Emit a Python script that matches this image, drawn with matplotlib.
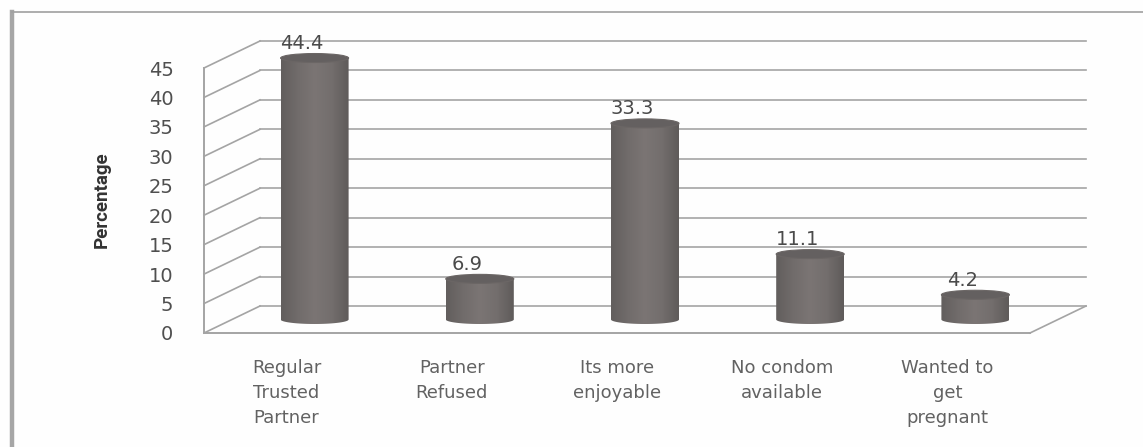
import numpy as np
import matplotlib
matplotlib.use('Agg')
import matplotlib.pyplot as plt
from matplotlib.colors import LinearSegmentedColormap
from matplotlib.patches import Ellipse, PathPatch
from matplotlib.path import Path
from matplotlib.transforms import Affine2D

categories = ['Regular\nTrusted\nPartner', 'Partner\nRefused', 'Its more\nenjoyable',
              'No condom\navailable', 'Wanted to\nget\npregnant']
values = [44.4, 6.9, 33.3, 11.1, 4.2]
y_ticks = [0, 5, 10, 15, 20, 25, 30, 35, 40, 45]

W, H = 1143, 447
LEFT, RIGHT, BOTTOM, TOP = 204, 1030, 333, 68
DEPTH_X, DEPTH_Y = 56, 27
GRID = '#a4a4a4'
TEXT = '#626262'

plt.rcParams['font.family'] = 'DejaVu Sans'

fig = plt.figure(figsize=(W / 100, H / 100), dpi=100, facecolor='#fefefe')
ax = fig.add_axes([LEFT / W, 1 - BOTTOM / H, (RIGHT - LEFT) / W, (BOTTOM - TOP) / H])
ax.patch.set_alpha(0)
ax.set_xlim(0, len(values))
ax.set_ylim(0, 45)
for s in ax.spines.values():
    s.set_visible(False)

# depth offsets are in pixels on top of the data transform
back = ax.transData + Affine2D().translate(DEPTH_X, DEPTH_Y)
mid = ax.transData + Affine2D().translate(DEPTH_X / 2, DEPTH_Y / 2)
x_unit = (RIGHT - LEFT) / len(values)
y_unit = (BOTTOM - TOP) / 45
n = len(values)

# back wall, side wall, floor
for t in y_ticks:
    ax.plot([0, n], [t, t], color=GRID, lw=1.2, transform=back, clip_on=False, zorder=1)
    ax.plot([0, DEPTH_X / x_unit], [t, t + DEPTH_Y / y_unit], color=GRID, lw=1.2,
            clip_on=False, zorder=1)
ax.plot([0, 0], [0, 45], color=GRID, lw=1.4, clip_on=False, zorder=1)
ax.plot([0, n], [0, 0], color=GRID, lw=1.4, clip_on=False, zorder=1)
ax.plot([n, n + DEPTH_X / x_unit], [0, DEPTH_Y / y_unit], color=GRID, lw=1.2,
        clip_on=False, zorder=1)

# cylinders
side_cmap = LinearSegmentedColormap.from_list(
    'side', ['#625e5d', '#716c6b', '#7b7574', '#736e6d', '#5f5b5a'])
half_w = 34 / x_unit
half_h = 4.5 / y_unit
gradient = np.linspace(0, 1, 128).reshape(1, -1)
theta = np.linspace(np.pi, 2 * np.pi, 40)

for i, v in enumerate(values):
    cx = i + 0.5
    xs = cx + half_w * np.cos(theta)
    ys = half_h * np.sin(theta)
    verts = list(zip(xs, ys)) + [(xs[-1], v), (xs[0], v), (xs[0], ys[0])]
    outline = PathPatch(Path(verts), facecolor='none', edgecolor='none', transform=mid,
                        zorder=3, clip_on=False)
    ax.add_patch(outline)
    im = ax.imshow(gradient, cmap=side_cmap, aspect='auto', zorder=3, transform=mid,
                   extent=(cx - half_w, cx + half_w, -half_h, v))
    im.set_clip_box(fig.bbox)
    im.set_clip_path(outline)
    ax.add_patch(Ellipse((cx, v), 2 * half_w, 2 * half_h, facecolor='#646060',
                         edgecolor='#6b6665', lw=0.8, transform=mid, zorder=4, clip_on=False))
    ax.annotate(f'{v:.1f}', xy=(cx, v), xycoords=mid, xytext=(-9, 10.5),
                textcoords='offset points', ha='center', va='center',
                fontsize=14, color='#4a4a4a', zorder=5, annotation_clip=False)

ax.set_xlim(0, n)
ax.set_ylim(0, 45)

ax.set_yticks(y_ticks)
ax.set_yticklabels([str(t) for t in y_ticks], fontsize=14, color='#4f4f4f')
ax.set_xticks(np.arange(n) + 0.5)
ax.set_xticklabels(categories, fontsize=13, color=TEXT, linespacing=1.5)
ax.tick_params(axis='y', length=0, pad=22)
ax.tick_params(axis='x', length=0, pad=19)

fig.text(102 / W, 1 - 200 / H, 'Percentage', rotation=90, ha='center', va='center',
         fontsize=13.5, fontweight='bold', color='#333333', family='Roboto')

# page frame around the chart
fig.add_artist(plt.Line2D([12.3 / W, 12.3 / W], [0, 1 - 12 / H], color='#a6a6a6', lw=3.2))
fig.add_artist(plt.Line2D([12 / W, 1], [1 - 12 / H, 1 - 12 / H], color='#a0a0a0', lw=1.2))

fig.savefig('out.png', dpi=100, facecolor=fig.get_facecolor())
